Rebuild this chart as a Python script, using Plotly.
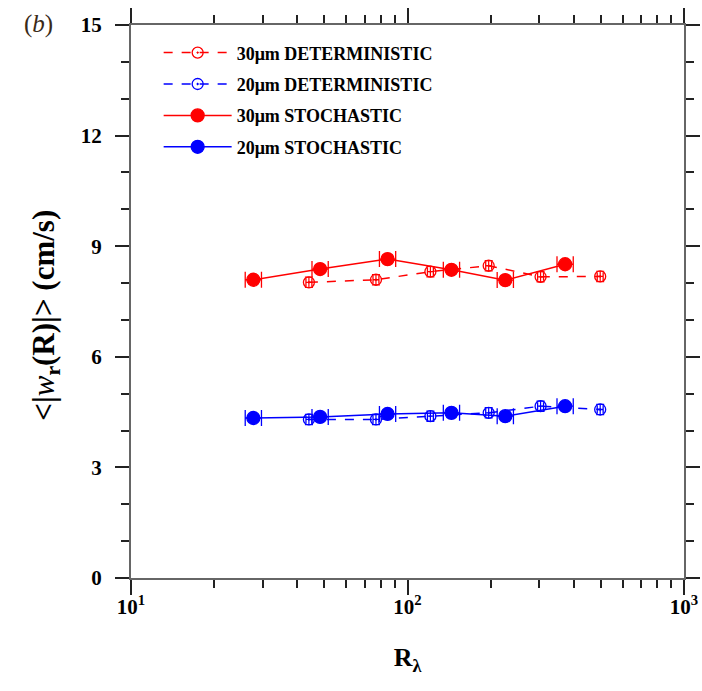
import plotly.graph_objects as go

# ---- data ----
R_stoch = [27.7, 48.3, 84.7, 144.2, 225.8, 371.6]
R_det = [44.0, 76.9, 121.0, 196.6, 302.9, 497.6]

w30_stoch = [8.09, 8.38, 8.65, 8.36, 8.08, 8.51]
w20_stoch = [4.34, 4.37, 4.45, 4.48, 4.39, 4.66]
w30_det = [8.02, 8.09, 8.31, 8.47, 8.17, 8.18]
w20_det = [4.30, 4.30, 4.39, 4.48, 4.66, 4.57]

xerr_frac_stoch = 0.07   # relative horizontal error (stochastic)
xerr_frac_det = 0.025    # relative horizontal error (deterministic)
yerr_det = 0.14          # vertical error (deterministic)

x_major = [10, 100, 1000]
x_major_text = ["<b>10<sup>1</sup></b>", "<b>10<sup>2</sup></b>", "<b>10<sup>3</sup></b>"]
y_major = [0, 3, 6, 9, 12, 15]

RED = "#ff0000"
BLUE = "#0000ff"
FONT = "Liberation Serif"


def xerr(xs, f):
    plus = [x * f for x in xs]
    minus = [x * (1 - 1 / (1 + f)) for x in xs]
    return plus, minus


fig = go.Figure()


def add(name, xs, ys, color, dash, symbol, size, f, ey, group):
    p, m = xerr(xs, f)
    ex = dict(type="data", array=p, arrayminus=m, color=color, thickness=1.3,
              width=8 if ey is None else 4)
    kw = {}
    if ey is not None:
        kw["error_y"] = dict(type="constant", value=ey, color=color, thickness=1.2, width=4)
    fig.add_trace(go.Scatter(
        x=xs, y=ys, name="<b>" + name + "</b>", mode="lines+markers", legendgroup=group,
        line=dict(color=color, width=1.5, dash=dash),
        marker=dict(symbol=symbol, size=size, color=color,
                    line=dict(color=color, width=1.3)),
        error_x=ex, **kw))


add("30μm DETERMINISTIC", R_det, w30_det, RED, "dash", "circle-open-dot", 11, xerr_frac_det, yerr_det, "a")
add("20μm DETERMINISTIC", R_det, w20_det, BLUE, "dash", "circle-open-dot", 11, xerr_frac_det, yerr_det, "b")
add("30μm STOCHASTIC", R_stoch, w30_stoch, RED, "solid", "circle", 13, xerr_frac_stoch, None, "c")
add("20μm STOCHASTIC", R_stoch, w20_stoch, BLUE, "solid", "circle", 13, xerr_frac_stoch, None, "d")

minor_x = [m * d for d in (10, 100) for m in range(2, 10)]

axis_common = dict(
    showline=True, linecolor="#666666", linewidth=2, mirror="allticks",
    ticks="outside", tickcolor="#222222", tickwidth=1.5,
    showgrid=False, zeroline=False, automargin=False,
)

fig.update_xaxes(
    type="log", range=[1, 3],
    tickvals=x_major, ticktext=x_major_text, ticklen=15, ticklabelstandoff=-6,
    tickfont=dict(family=FONT, size=21, color="black"),
    minor=dict(tickvals=minor_x, ticks="outside", ticklen=8, tickcolor="#222222", tickwidth=1.5, showgrid=False),
    title=dict(text="<b>R<sub>λ</sub></b>", font=dict(family=FONT, size=26, color="black"), standoff=30),
    **axis_common)

fig.update_yaxes(
    range=[0, 15], tickvals=y_major, ticktext=[f"<b>{v}</b>" for v in y_major], ticklen=14,
    ticklabelstandoff=9,
    tickfont=dict(family=FONT, size=21, color="black"),
    minor=dict(dtick=1, ticks="outside", ticklen=8, tickcolor="#222222", tickwidth=1.5, showgrid=False),
    **axis_common)

# y-axis title placed as a rotated annotation for precise positioning
fig.add_annotation(text="<b>&lt;|</b><i>w</i><b><sub>r</sub>(R)|&gt; (cm/s)</b>",
                   xref="paper", yref="paper", x=-0.155, y=0.5, xanchor="center", yanchor="middle",
                   yshift=-14, textangle=-90, showarrow=False,
                   font=dict(family=FONT, size=31, color="black"))

fig.add_annotation(text="(<i>b</i>)", xref="paper", yref="paper", x=-0.197, y=1.03,
                   xanchor="left", yanchor="top", showarrow=False,
                   font=dict(family=FONT, size=25, color="#3a2a18"))

fig.update_layout(
    width=702, height=691,
    margin=dict(l=131, r=18, t=25, b=113),
    plot_bgcolor="white", paper_bgcolor="white",
    showlegend=True,
    legend=dict(x=0.05, y=0.983, xanchor="left", yanchor="top",
                bgcolor="rgba(0,0,0,0)", borderwidth=0,
                font=dict(family=FONT, size=18, color="black"),
                itemwidth=68, tracegroupgap=5, traceorder="grouped",
                itemsizing="trace"),
)

fig.write_html("out.html", config={"displayModeBar": False},
               post_script="document.body.style.margin='0';document.body.style.overflow='hidden';")
